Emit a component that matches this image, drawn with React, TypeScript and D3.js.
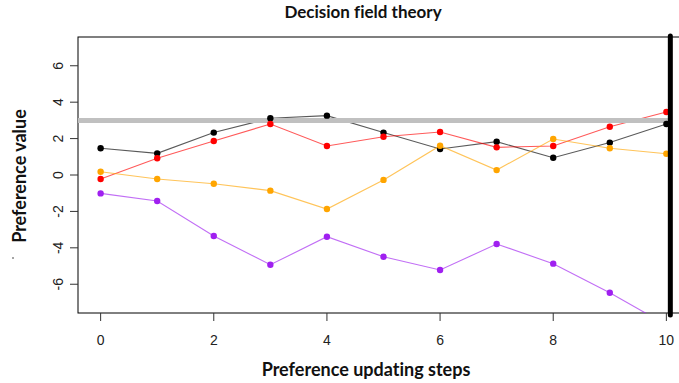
import React from "react";
import * as d3 from "d3";

const W = 679;
const H = 383;

// preference updating steps
const steps = [0, 1, 2, 3, 4, 5, 6, 7, 8, 9, 10];

// preference values per option
const blackValues = [1.47, 1.19, 2.33, 3.12, 3.26, 2.33, 1.43, 1.83, 0.95, 1.78, 2.8];
const redValues = [-0.22, 0.92, 1.87, 2.8, 1.59, 2.1, 2.36, 1.52, 1.59, 2.65, 3.46];
const orangeValues = [0.18, -0.22, -0.48, -0.86, -1.87, -0.27, 1.61, 0.27, 1.98, 1.47, 1.17];
const purpleValues = [-1.01, -1.43, -3.35, -4.93, -3.39, -4.49, -5.22, -3.79, -4.87, -6.47, -8.23];

const seriesNames = ["black", "red", "orange", "purple"];
const seriesColors = ["#000000", "#ff0000", "#ffa500", "#a020f0"];

const xTicks = [0, 2, 4, 6, 8, 10];
const yTicks = [-6, -4, -2, 0, 2, 4, 6];

const threshold = 3;
const stopStep = 10.07;

const margin = { left: 78, top: 37, bottom: 70 };

const labelStyle: React.CSSProperties = { fontVariantLigatures: "none" };

export default function App() {
  const x = d3.scaleLinear().domain([-0.4, 10.4]).range([margin.left, 689]);
  const y = d3.scaleLinear().domain([-7.58, 7.58]).range([H - margin.bottom, margin.top]);

  const allValues = [blackValues, redValues, orangeValues, purpleValues];
  const line = d3
    .line<number>()
    .x((_, i) => x(steps[i]))
    .y((d) => y(d));

  const x0 = x.range()[0];
  const x1 = x.range()[1];
  const y0 = y.range()[0];
  const y1 = y.range()[1];

  return (
    <div style={{ position: "absolute", left: 0, top: 0 }}>
      <svg width={W} height={H} style={{ display: "block", background: "#fff" }}>
        <defs>
          <clipPath id="plotArea">
            <rect x={x0} y={y1} width={x1 - x0} height={y0 - y1} />
          </clipPath>
        </defs>

        {/* box */}
        <rect x={x0} y={y1} width={x1 - x0} height={y0 - y1} fill="none" stroke="#000" strokeWidth={1} />

        {/* y axis */}
        <g fontFamily="'Liberation Sans', Arial, sans-serif" fontSize={14} fill="#222">
          {yTicks.map((t) => (
            <g key={t}>
              <line x1={x0 - 8} x2={x0} y1={y(t)} y2={y(t)} stroke="#333" />
              <text
                transform={`translate(${x0 - 20},${y(t)}) rotate(-90)`}
                textAnchor="middle"
                dy="0.35em"
              >
                {t}
              </text>
            </g>
          ))}
        </g>

        {/* x axis */}
        <g fontFamily="'Liberation Sans', Arial, sans-serif" fontSize={14} fill="#222">
          {xTicks.map((t) => (
            <g key={t}>
              <line x1={x(t)} x2={x(t)} y1={y0} y2={y0 + 8} stroke="#333" />
              <text x={x(t)} y={y0 + 32} textAnchor="middle">
                {t}
              </text>
            </g>
          ))}
        </g>

        <g clipPath="url(#plotArea)">
          {allValues.map((vals, k) => (
            <path
              key={seriesNames[k]}
              d={line(vals) || ""}
              fill="none"
              stroke={seriesColors[k]}
              strokeOpacity={0.65}
              strokeWidth={1.1}
            />
          ))}

          <line
            x1={x0}
            x2={x(stopStep)}
            y1={y(threshold)}
            y2={y(threshold)}
            stroke="#c0c0c0"
            strokeWidth={5}
          />

          {allValues.map((vals, k) => (
            <g key={seriesNames[k] + "-pts"} fill={seriesColors[k]}>
              {vals.map((v, i) => (
                <circle key={i} cx={x(steps[i])} cy={y(v)} r={3.2} />
              ))}
            </g>
          ))}
        </g>

        <line
          x1={x(stopStep)}
          x2={x(stopStep)}
          y1={y1 - 1}
          y2={y0 + 2}
          stroke="#000"
          strokeWidth={5}
          strokeLinecap="round"
        />

        <text
          x={363}
          y={17.5}
          textAnchor="middle"
          fontFamily="Lato, 'Open Sans', sans-serif"
          fontWeight="bold"
          fontSize={17}
          fill="#111"
          style={labelStyle}
        >
          Decision field theory
        </text>
        <text
          x={366}
          y={375.5}
          textAnchor="middle"
          fontFamily="Lato, 'Open Sans', sans-serif"
          fontWeight="bold"
          fontSize={18}
          fill="#111"
          style={labelStyle}
        >
          Preference updating steps
        </text>
        <text
          transform={`translate(26,176) rotate(-90)`}
          textAnchor="middle"
          fontFamily="Lato, 'Open Sans', sans-serif"
          fontWeight="bold"
          fontSize={18}
          fill="#111"
          style={labelStyle}
        >
          Preference value
        </text>
        <circle cx={13} cy={258} r={0.8} fill="#333" />
      </svg>
    </div>
  );
}
